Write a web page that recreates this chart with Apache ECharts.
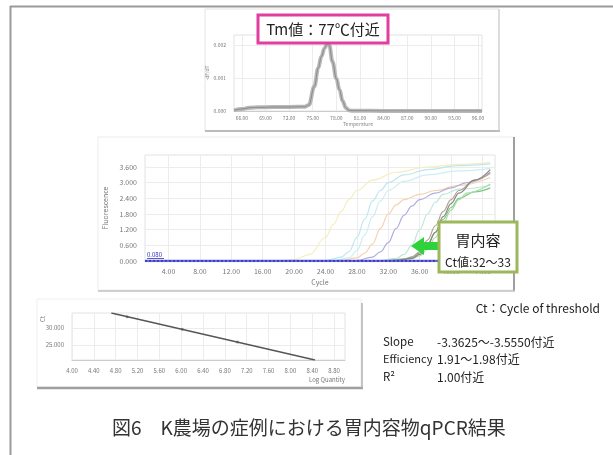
<!DOCTYPE html>
<html>
<head>
<meta charset="utf-8">
<script src="https://cdn.jsdelivr.net/npm/echarts@6/dist/echarts.min.js"></script>
<style>
  html, body { margin: 0; padding: 0; background: #fff; }
  #chart { width: 613px; height: 455px; }
</style>
</head>
<body>
<div id="chart"></div>
<script>
// 融解曲線 (Tm)
const meltTemp = [65, 66, 67, 68, 70, 72, 74, 74.5, 75.2, 75.7, 76.1, 76.5, 76.8, 77.1, 77.5, 78, 78.4, 78.8, 79.2, 79.6, 80, 85, 90, 96.5];
const meltDf = [0.00002, 0.00006, 0.0001, 0.00011, 0.00012, 0.00012, 0.00013, 0.00018, 0.00074, 0.0013, 0.00165, 0.0019, 0.00202, 0.002, 0.0015, 0.00098, 0.00064, 0.0003, 0.0001, 0.00002, 0.00001, 0, 0, 0];
const meltXTicks = [66, 69, 72, 75, 78, 81, 84, 87, 90, 93, 96];
const meltYTicks = [0, 0.001, 0.002];

// 増幅曲線 [cycle, fluorescence]
const ampYellow = [[1, 0], [18, 0.01], [20, 0.05], [22, 0.25], [24, 0.9], [25, 1.4], [26, 1.9], [27, 2.35], [28, 2.7], [30, 3.1], [33, 3.4], [37, 3.6], [41, 3.7], [45, 3.78]];
const ampCyanA = [[1, 0], [24, 0.02], [26, 0.15], [27, 0.35], [28, 0.9], [29, 1.6], [30, 2.3], [31, 2.7], [32, 3.0], [34, 3.3], [37, 3.5], [41, 3.65], [45, 3.72]];
const ampCyanB = [[1, 0], [25, 0.02], [27, 0.12], [28, 0.4], [29, 1.0], [30, 1.7], [31, 2.3], [32, 2.7], [34, 3.05], [37, 3.3], [41, 3.45], [45, 3.55]];
const ampOrange = [[1, 0], [26, 0.02], [28, 0.12], [29, 0.3], [30, 0.65], [31, 1.25], [32, 1.8], [33, 2.15], [34, 2.35], [36, 2.55], [38, 2.7], [41, 2.9], [45, 3.2]];
const ampPurple = [[1, 0], [28, 0.02], [30, 0.15], [31, 0.35], [32, 0.7], [33, 1.25], [34, 1.75], [35, 2.1], [36, 2.35], [38, 2.6], [40, 2.8], [42, 3.0], [45, 3.35]];
const ampTeal = [[1, 0], [31, 0.02], [33, 0.1], [34, 0.25], [35, 0.6], [36, 1.2], [37, 1.8], [38, 2.25], [39, 2.55], [41, 2.75], [45, 2.9]];
const ampGreenA = [[1, 0], [32, 0.02], [34, 0.08], [35, 0.15], [36, 0.3], [37, 0.65], [38, 1.1], [39, 1.6], [40, 2.05], [41, 2.4], [43, 2.65], [45, 2.8]];
const ampGreenB = [[1, 0], [33, 0.02], [35, 0.08], [36, 0.2], [37, 0.45], [38, 0.9], [39, 1.45], [40, 1.95], [41, 2.35], [42, 2.6], [45, 2.95]];
const ampBrown = [[1, 0], [32, 0.02], [34, 0.06], [35, 0.15], [36, 0.35], [37, 0.8], [38, 1.35], [39, 1.9], [40, 2.35], [41, 2.7], [43, 3.1], [45, 3.4]];
const ampGray = [[1, 0], [33, 0.02], [35, 0.1], [36, 0.25], [37, 0.6], [38, 1.1], [39, 1.7], [40, 2.2], [41, 2.6], [43, 3.1], [45, 3.5]];
const ampBaseline = [[1, 0], [45.6, 0]];
const ampXTicks = [4, 8, 12, 16, 20, 24, 28, 32, 36, 40, 44];
const ampYTicks = [0, 0.6, 1.2, 1.8, 2.4, 3.0, 3.6];

// 検量線
const stdLine = [[4.72, 34.4], [8.45, 20.6]];
const stdPoints = [[5.01, 33.3], [6.02, 29.6], [7.03, 25.9]];
const stdXTicks = [4.0, 4.4, 4.8, 5.2, 5.6, 6.0, 6.4, 6.8, 7.2, 7.6, 8.0, 8.4, 8.8];
const stdYTicks = [25, 30];

const FONT = '"Noto Sans CJK JP", "Noto Sans", sans-serif';

const ampCurves = [
  { data: ampYellow, color: '#f3efbe' },
  { data: ampCyanA, color: '#bde7ef' },
  { data: ampCyanB, color: '#cdeef4' },
  { data: ampOrange, color: '#f6d2ad' },
  { data: ampPurple, color: '#aeaee0' },
  { data: ampTeal, color: '#bfe6de' },
  { data: ampGreenA, color: '#7cc47c' },
  { data: ampGreenB, color: '#a8dca8' },
  { data: ampBrown, color: '#b0a496' },
  { data: ampGray, color: '#8c8680' },
];

const chart = echarts.init(document.getElementById('chart'));

const smallLabel = (size, digits, ticks) => ({
  fontSize: size,
  color: '#777',
  fontFamily: FONT,
  customValues: ticks,
  formatter: (v) => Number(v).toFixed(digits),
});

const gridLine = { show: true, lineStyle: { color: '#ececec', width: 1 } };

chart.setOption({
  animation: false,
  backgroundColor: '#fff',
  grid: [
    { left: 234, top: 35, width: 248, height: 76, show: true, borderColor: '#e2e2e2', borderWidth: 1 },
    { left: 145, top: 155, width: 350, height: 106, show: true, borderColor: '#e2e2e2', borderWidth: 1 },
    { left: 72, top: 313, width: 273, height: 47, show: true, borderColor: '#e2e2e2', borderWidth: 1 },
  ],
  xAxis: [
    {
      gridIndex: 0, type: 'value', min: 65, max: 96.5,
      name: 'Temperature', nameLocation: 'middle', nameGap: 10,
      nameTextStyle: { fontSize: 5, color: '#888', fontFamily: FONT },
      axisLine: { lineStyle: { color: '#ccc' } },
      axisTick: { show: false, customValues: meltXTicks },
      axisLabel: Object.assign(smallLabel(5, 2, meltXTicks), { margin: 5 }),
      splitLine: gridLine,
    },
    {
      gridIndex: 1, type: 'value', min: 1, max: 45.6,
      name: 'Cycle', nameLocation: 'middle', nameGap: 18,
      nameTextStyle: { fontSize: 7, color: '#777', fontFamily: FONT },
      axisLine: { lineStyle: { color: '#ccc' } },
      axisTick: { show: false, customValues: ampXTicks },
      axisLabel: Object.assign(smallLabel(7, 2, ampXTicks), { margin: 7 }),
      splitLine: gridLine,
    },
    {
      gridIndex: 2, type: 'value', min: 4, max: 9,
      name: 'Log Quantity', nameLocation: 'end', nameGap: 0,
      nameTextStyle: { fontSize: 6, color: '#777', fontFamily: FONT, align: 'right', verticalAlign: 'top', padding: [17, 0, 0, 0] },
      axisLine: { lineStyle: { color: '#ccc' } },
      axisTick: { show: false, customValues: stdXTicks },
      axisLabel: Object.assign(smallLabel(6, 2, stdXTicks), { margin: 8 }),
      splitLine: gridLine,
    },
  ],
  yAxis: [
    {
      gridIndex: 0, type: 'value', min: 0, max: 0.0023,
      name: '-dF/dT', nameLocation: 'middle', nameGap: 22, nameRotate: 90,
      nameTextStyle: { fontSize: 5, color: '#888', fontFamily: FONT },
      axisLine: { show: false },
      axisTick: { show: false, customValues: meltYTicks },
      axisLabel: smallLabel(5, 3, meltYTicks),
      splitLine: gridLine,
    },
    {
      gridIndex: 1, type: 'value', min: 0, max: 4.06,
      name: 'Fluorescence', nameLocation: 'middle', nameGap: 30, nameRotate: 90,
      nameTextStyle: { fontSize: 7, color: '#777', fontFamily: FONT },
      axisLine: { show: false },
      axisTick: { show: false, customValues: ampYTicks },
      axisLabel: smallLabel(7, 3, ampYTicks),
      splitLine: gridLine,
    },
    {
      gridIndex: 2, type: 'value', min: 20.6, max: 34.4,
      axisLine: { show: false },
      axisTick: { show: false, customValues: stdYTicks },
      axisLabel: smallLabel(6, 3, stdYTicks),
      splitLine: gridLine,
    },
  ],
  series: [
    {
      type: 'line', xAxisIndex: 0, yAxisIndex: 0, symbol: 'none', smooth: 0.4, smoothMonotone: 'x',
      data: meltTemp.map((t, i) => [t, meltDf[i]]),
      lineStyle: { color: '#b8b8b8', width: 4 },
    },
    {
      type: 'line', xAxisIndex: 0, yAxisIndex: 0, symbol: 'none', smooth: 0.4, smoothMonotone: 'x',
      data: meltTemp.map((t, i) => [t, meltDf[i]]),
      lineStyle: { color: '#8a8a8a', width: 1 },
    },
    ...ampCurves.map((c) => ({
      type: 'line', xAxisIndex: 1, yAxisIndex: 1, symbol: 'none', smooth: 0.4, smoothMonotone: 'x',
      data: c.data,
      lineStyle: { color: c.color, width: 1.2 },
    })),
    {
      type: 'line', xAxisIndex: 1, yAxisIndex: 1, symbol: 'none',
      data: ampBaseline,
      lineStyle: { color: '#6a6ae2', width: 2.5 },
    },
    {
      type: 'line', xAxisIndex: 1, yAxisIndex: 1, symbol: 'none',
      data: ampBaseline,
      lineStyle: { color: '#2a2aa8', width: 1.5, type: [2, 2] },
    },
    {
      type: 'line', xAxisIndex: 2, yAxisIndex: 2, symbol: 'none',
      data: stdLine,
      lineStyle: { color: '#555', width: 1.3 },
    },
    {
      type: 'scatter', xAxisIndex: 2, yAxisIndex: 2, symbolSize: 3,
      data: stdPoints,
      itemStyle: { color: '#777' },
    },
  ],
  graphic: [
    // outer frame
    { type: 'line', z: 50, shape: { x1: 10, y1: 6.5, x2: 613, y2: 6.5 }, style: { stroke: '#9a9a9a', lineWidth: 2 } },
    { type: 'line', z: 50, shape: { x1: 10.5, y1: 6, x2: 10.5, y2: 455 }, style: { stroke: '#9a9a9a', lineWidth: 2 } },
    // panels
    { type: 'rect', z: -10, shape: { x: 205, y: 9, width: 294, height: 122 }, style: { fill: '#fff', stroke: '#e4e4e4', lineWidth: 1 } },
    { type: 'line', z: 5, shape: { x1: 205, y1: 131, x2: 500, y2: 131 }, style: { stroke: '#a8a8a8', lineWidth: 1.5 } },
    { type: 'line', z: 5, shape: { x1: 499, y1: 9, x2: 499, y2: 131 }, style: { stroke: '#c8c8c8', lineWidth: 1 } },
    { type: 'rect', z: -10, shape: { x: 98, y: 137, width: 416, height: 153 }, style: { fill: '#fff', stroke: '#ececec', lineWidth: 1 } },
    { type: 'line', z: 5, shape: { x1: 514, y1: 137, x2: 514, y2: 291 }, style: { stroke: '#a0a0a0', lineWidth: 2 } },
    { type: 'line', z: 5, shape: { x1: 98, y1: 291, x2: 515, y2: 291 }, style: { stroke: '#c0c0c0', lineWidth: 1.5 } },
    { type: 'rect', z: -10, shape: { x: 37, y: 299, width: 324, height: 88 }, style: { fill: '#fff', stroke: '#efefef', lineWidth: 1 } },
    { type: 'line', z: 5, shape: { x1: 37, y1: 388, x2: 363, y2: 388 }, style: { stroke: '#a0a0a0', lineWidth: 2.5 } },
    { type: 'line', z: 5, shape: { x1: 362, y1: 303, x2: 362, y2: 388 }, style: { stroke: '#b0b0b0', lineWidth: 1.5 } },
    // Tm label
    { type: 'rect', z: 60, shape: { x: 258, y: 15, width: 130, height: 28 }, style: { fill: '#fff', stroke: '#e23ea0', lineWidth: 3 } },
    { type: 'text', z: 61, x: 323, y: 29, style: { text: 'Tm値：77℃付近', fontSize: 15, fontFamily: FONT, fill: '#222', align: 'center', verticalAlign: 'middle' } },
    // threshold label
    { type: 'text', z: 61, x: 147, y: 258, style: { text: '0.080', fontSize: 6, fontFamily: FONT, fill: '#3030c0', verticalAlign: 'bottom' } },
    { type: 'line', z: 61, shape: { x1: 147, y1: 258.5, x2: 164, y2: 258.5 }, style: { stroke: '#3030c0', lineWidth: 0.8 } },
    // arrow + callout
    { type: 'polygon', z: 60, shape: { points: [[411, 246], [424, 237], [424, 242], [441, 242], [441, 250], [424, 250], [424, 255]] }, style: { fill: '#2fd23a' } },
    { type: 'rect', z: 60, shape: { x: 439, y: 222, width: 78, height: 50 }, style: { fill: '#fff', stroke: '#9cb85a', lineWidth: 3 } },
    { type: 'text', z: 61, x: 478, y: 240, style: { text: '胃内容', fontSize: 15, fontFamily: FONT, fill: '#222', align: 'center', verticalAlign: 'middle' } },
    { type: 'text', z: 61, x: 478, y: 262, style: { text: 'Ct値:32〜33', fontSize: 12, fontFamily: FONT, fill: '#222', align: 'center', verticalAlign: 'middle' } },
    // std curve y name
    { type: 'text', z: 61, x: 43, y: 319, rotation: Math.PI / 2, style: { text: 'Ct', fontSize: 6, fontFamily: FONT, fill: '#777', align: 'center', verticalAlign: 'middle' } },
    // right notes
    { type: 'text', z: 61, x: 600, y: 308, style: { text: 'Ct：Cycle of threshold', fontSize: 12, fontFamily: FONT, fill: '#222', align: 'right', verticalAlign: 'middle' } },
    { type: 'text', z: 61, x: 383, y: 342, style: { text: 'Slope', fontSize: 11.5, fontFamily: FONT, fill: '#222', verticalAlign: 'middle' } },
    { type: 'text', z: 61, x: 437, y: 342, style: { text: '-3.3625〜-3.5550付近', fontSize: 12, fontFamily: FONT, fill: '#222', verticalAlign: 'middle' } },
    { type: 'text', z: 61, x: 383, y: 359, style: { text: 'Efficiency', fontSize: 11, fontFamily: FONT, fill: '#222', verticalAlign: 'middle' } },
    { type: 'text', z: 61, x: 437, y: 359, style: { text: '1.91〜1.98付近', fontSize: 12, fontFamily: FONT, fill: '#222', verticalAlign: 'middle' } },
    { type: 'text', z: 61, x: 383, y: 377, style: { text: 'R²', fontSize: 11.5, fontFamily: FONT, fill: '#222', verticalAlign: 'middle' } },
    { type: 'text', z: 61, x: 437, y: 377, style: { text: '1.00付近', fontSize: 12, fontFamily: FONT, fill: '#222', verticalAlign: 'middle' } },
    // caption
    { type: 'text', z: 61, x: 112, y: 428, style: { text: '図6　K農場の症例における胃内容物qPCR結果', fontSize: 19, fontFamily: FONT, fill: '#333', verticalAlign: 'middle' } },
  ],
});
</script>
</body>
</html>
